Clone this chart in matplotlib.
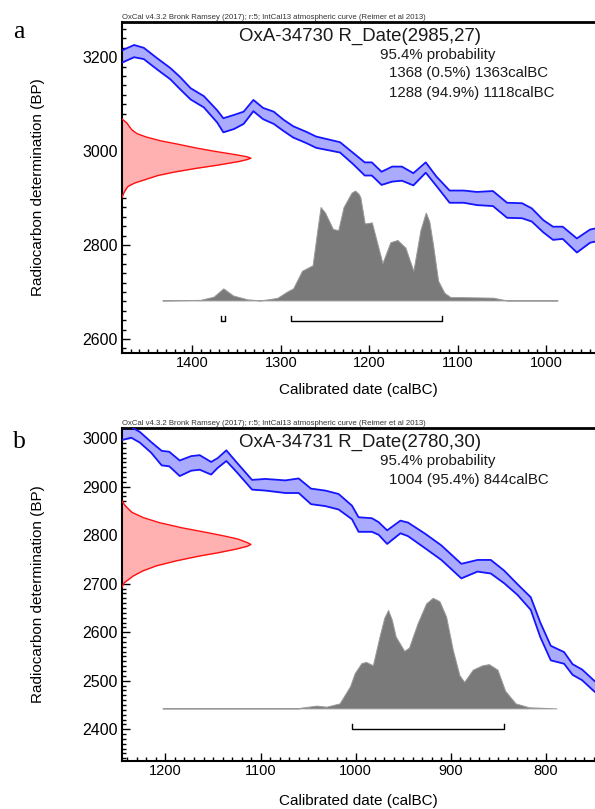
"""
Two OxCal style calibration plots (OxA-34730 and OxA-34731) redrawn with matplotlib.
"""

import matplotlib
matplotlib.use("Agg")
import matplotlib.pyplot as plt
from matplotlib.ticker import MultipleLocator

plt.rcParams["font.family"] = ["Liberation Sans", "DejaVu Sans"]

HEADER = "OxCal v4.3.2 Bronk Ramsey (2017); r:5; IntCal13 atmospheric curve (Reimer et al 2013)"

# ---- panel a : OxA-34730 ----
a_title = "OxA-34730 R_Date(2985,27)"
a_lines = ["95.4% probability", "1368 (0.5%) 1363calBC", "1288 (94.9%) 1118calBC"]

# IntCal13 curve (calBC, BP, 1 sigma)
a_curve_cal = [1485, 1479, 1466, 1455, 1440, 1425, 1414, 1402, 1387, 1372, 1365, 1353,
               1342, 1331, 1320, 1308, 1297, 1286, 1271, 1260, 1233, 1218, 1205, 1197,
               1186, 1174, 1163, 1150, 1136, 1124, 1109, 1093, 1078, 1060, 1044, 1027,
               1016, 1003, 992, 981, 965, 950, 945, 938]
a_curve_bp = [3196, 3202, 3213, 3208, 3186, 3165, 3145, 3122, 3105, 3074, 3055, 3062,
              3071, 3097, 3080, 3071, 3055, 3041, 3029, 3019, 3008, 2984, 2962, 2962,
              2942, 2951, 2952, 2940, 2965, 2936, 2903, 2903, 2899, 2899, 2874, 2873,
              2864, 2840, 2825, 2826, 2799, 2819, 2821, 2822]
a_curve_err = [13, 13, 13, 12, 12, 12, 13, 12, 12, 13, 15, 15,
               13, 12, 12, 13, 12, 12, 12, 12, 11, 12, 14, 14,
               14, 16, 15, 13, 11, 10, 13, 13, 14, 16, 16, 16,
               14, 13, 14, 13, 15, 14, 14, 14]

# radiocarbon measurement (BP, relative probability)
a_date_bp = [3069, 3060, 3052, 3045, 3037, 3030, 3022, 3015, 3007, 3000, 2992, 2988,
             2985, 2982, 2978, 2970, 2963, 2955, 2948, 2940, 2932, 2925, 2918, 2910,
             2900]
a_date_p = [0.0, 0.04, 0.06, 0.08, 0.12, 0.19, 0.30, 0.43, 0.57, 0.71, 0.89, 0.97,
            1.0, 0.97, 0.91, 0.74, 0.57, 0.40, 0.28, 0.19, 0.10, 0.05, 0.03, 0.015,
            0.0]

# calibrated distribution (calBC, relative probability)
a_cal_year = [1434, 1391, 1376, 1365, 1354, 1338, 1323, 1304, 1293, 1286, 1276, 1264,
              1259, 1255, 1250, 1241, 1235, 1229, 1220, 1216, 1212, 1210, 1205, 1197,
              1185, 1176, 1168, 1159, 1150, 1142, 1136, 1132, 1128, 1122, 1115, 1108,
              1097, 1060, 1044, 987]
a_cal_p = [0.0, 0.005, 0.034, 0.11, 0.045, 0.01, 0.0, 0.023, 0.08, 0.11, 0.27, 0.32,
           0.62, 0.85, 0.80, 0.65, 0.64, 0.85, 0.98, 1.0, 0.97, 0.94, 0.70, 0.71,
           0.34, 0.53, 0.55, 0.48, 0.27, 0.64, 0.80, 0.72, 0.52, 0.18, 0.07, 0.03,
           0.03, 0.025, 0.0, 0.0]

a_ranges = [(1368, 1363), (1288, 1118)]

# ---- panel b : OxA-34731 ----
b_title = "OxA-34731 R_Date(2780,30)"
b_lines = ["95.4% probability", "1004 (95.4%) 844calBC"]

b_curve_cal = [1252, 1246, 1236, 1227, 1215, 1204, 1196, 1185, 1173, 1164, 1152, 1145,
               1136, 1126, 1109, 1095, 1074, 1060, 1047, 1032, 1018, 1004, 997, 983,
               976, 967, 953, 945, 927, 910, 889, 872, 858, 844, 830, 816, 806, 795,
               781, 772, 762, 751, 744]
b_curve_bp = [3010, 3009, 3012, 3002, 2981, 2959, 2957, 2938, 2948, 2950, 2938, 2949,
              2964, 2942, 2904, 2904, 2900, 2902, 2880, 2876, 2869, 2847, 2822, 2821,
              2814, 2796, 2817, 2812, 2788, 2764, 2726, 2737, 2735, 2714, 2688, 2659,
              2605, 2557, 2547, 2523, 2512, 2492, 2480]
b_curve_err = [13, 13, 11, 11, 11, 15, 15, 16, 15, 15, 13, 10,
               11, 10, 10, 12, 13, 15, 16, 16, 16, 14, 15, 14,
               13, 14, 13, 14, 15, 15, 15, 12, 14, 13, 11, 13, 15, 15,
               12, 11, 11, 11, 11]

b_date_bp = [2871, 2860, 2847, 2836, 2826, 2815, 2806, 2798, 2792, 2785, 2781, 2777,
             2771, 2764, 2757, 2747, 2737, 2726, 2716, 2702, 2692]
b_date_p = [0.0, 0.03, 0.08, 0.17, 0.29, 0.47, 0.65, 0.80, 0.90, 0.97, 1.0, 0.97,
            0.88, 0.75, 0.60, 0.42, 0.27, 0.16, 0.09, 0.02, 0.0]

b_cal_year = [1203, 1060, 1058, 1041, 1031, 1017, 1006, 1001, 994, 989, 982, 975,
              970, 966, 962, 958, 949, 944, 935, 926, 919, 912, 905, 898, 891, 886,
              877, 867, 860, 851, 843, 832, 818, 789]
b_cal_p = [0.0, 0.0, 0.006, 0.025, 0.015, 0.045, 0.20, 0.32, 0.41, 0.42, 0.39, 0.65,
           0.82, 0.89, 0.80, 0.65, 0.52, 0.55, 0.77, 0.95, 1.0, 0.97, 0.83, 0.53,
           0.30, 0.24, 0.35, 0.39, 0.40, 0.35, 0.16, 0.045, 0.01, 0.0]

b_ranges = [(1004, 844)]


def draw_panel(ax, xlim, ylim, ymajor, yminor, curve, date, cal, ranges,
               cal_base, title, lines, xlabel_y):
    """Draw one OxCal calibration panel."""
    ax.set_xlim(*xlim)
    ax.set_ylim(*ylim)
    xspan = xlim[0] - xlim[1]
    yspan = ylim[1] - ylim[0]

    # calibration curve band
    cc, cb, ce = curve
    lo = [b - e for b, e in zip(cb, ce)]
    hi = [b + e for b, e in zip(cb, ce)]
    ax.fill_between(cc, lo, hi, color="#aaaaff", lw=0, zorder=2)
    ax.plot(cc, lo, color="#1414ff", lw=1.3, zorder=3, solid_joinstyle="round")
    ax.plot(cc, hi, color="#1414ff", lw=1.3, zorder=3, solid_joinstyle="round")

    # radiocarbon date on the y axis
    dbp, dp = date
    dx = [xlim[0] - p * 0.273 * xspan for p in dp]
    ax.fill_betweenx(dbp, xlim[0], dx, color="#ffb0b0", lw=0, zorder=2)
    ax.plot(dx, dbp, color="#ff1010", lw=1.0, zorder=3)

    # calibrated distribution
    cy, cp = cal
    top = [cal_base + p * 0.332 * yspan for p in cp]
    ax.fill_between(cy, cal_base, top, facecolor="#7a7a7a", edgecolor="#9a9a9a",
                    lw=0.7, zorder=4)

    # range brackets
    by = cal_base - 0.062 * yspan
    bh = 0.015 * yspan
    for start, end in ranges:
        ax.plot([start, start, end, end], [by + bh, by, by, by + bh],
                color="black", lw=1.0, zorder=4)

    # texts
    ax.text(0.248, 0.956, title, transform=ax.transAxes, fontsize=13.4,
            ha="left", va="center", color="#1a1a1a")
    ax.text(0.545, 0.900, lines[0], transform=ax.transAxes, fontsize=10.8,
            ha="left", va="center", color="#1a1a1a")
    ys = [0.845, 0.787]
    for txt, yy in zip(lines[1:], ys):
        ax.text(0.565, yy, txt, transform=ax.transAxes, fontsize=10.8,
                ha="left", va="center", color="#1a1a1a")
    ax.text(0.0, 1.004, HEADER, transform=ax.transAxes, fontsize=5.6,
            ha="left", va="bottom", color="#333333")

    # axes styling
    ax.xaxis.set_major_locator(MultipleLocator(100))
    ax.xaxis.set_minor_locator(MultipleLocator(10))
    ax.yaxis.set_major_locator(MultipleLocator(ymajor))
    ax.yaxis.set_minor_locator(MultipleLocator(yminor))
    ax.tick_params(which="both", direction="in", color="black", width=1.0)
    ax.tick_params(which="major", length=6)
    ax.tick_params(which="minor", length=3)
    ax.tick_params(axis="x", labelsize=10.5, pad=2)
    ax.tick_params(axis="y", labelsize=11.5, pad=2.7)
    ax.spines["right"].set_visible(False)
    ax.spines["left"].set_linewidth(1.5)
    ax.spines["bottom"].set_linewidth(1.5)
    ax.spines["top"].set_linewidth(2.0)

    ax.set_ylabel("Radiocarbon determination (BP)", fontsize=11, va="center")
    ax.yaxis.set_label_coords(-0.177, 0.5)
    ax.set_xlabel("Calibrated date (calBC)", fontsize=11, va="center")
    ax.xaxis.set_label_coords(0.5, xlabel_y)


fig = plt.figure(figsize=(5.95, 8.09), dpi=100)
left = 121.7 / 595
ax_a = fig.add_axes([left, 1 - 353 / 809, 1 - left, (353 - 22) / 809])
ax_b = fig.add_axes([left, 1 - 761 / 809, 1 - left, (761 - 428) / 809])

draw_panel(ax_a, (1480, 944.5), (2570, 3275), 200, 20,
           (a_curve_cal, a_curve_bp, a_curve_err), (a_date_bp, a_date_p),
           (a_cal_year, a_cal_p), a_ranges, 2682, a_title, a_lines, -0.113)
draw_panel(ax_b, (1246, 748.5), (2334.5, 3021), 100, 10,
           (b_curve_cal, b_curve_bp, b_curve_err), (b_date_bp, b_date_p),
           (b_cal_year, b_cal_p), b_ranges, 2443, b_title, b_lines, -0.12)

fig.text(13 / 595, 1 - 38.5 / 809, "a", family=["Liberation Serif", "DejaVu Serif"],
         fontsize=18.5, ha="left", va="baseline")
fig.text(13 / 595, 1 - 448.5 / 809, "b", family=["Liberation Serif", "DejaVu Serif"],
         fontsize=18.5, ha="left", va="baseline")

fig.savefig("out.png", dpi=100)
